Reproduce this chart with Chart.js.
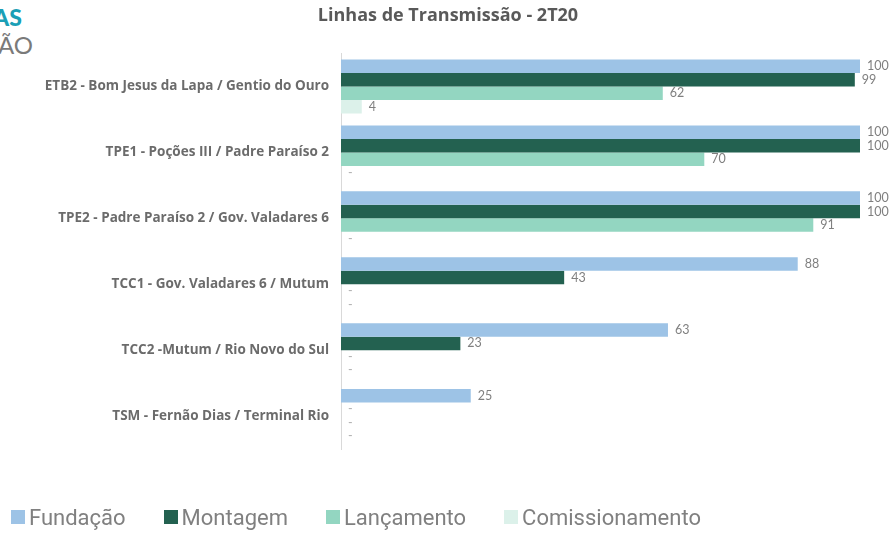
<!DOCTYPE html>
<html>
<head>
<meta charset="utf-8">
<script src="https://cdn.jsdelivr.net/npm/chart.js@4"></script>
<style>
  html, body { margin: 0; padding: 0; background: #fff; }
  #wrap { position: relative; width: 896px; height: 533px; overflow: hidden; }
  canvas { position: absolute; left: 0; top: 0; }
  .frag { position: absolute; font-family: 'Lato', sans-serif; white-space: nowrap; }
  #frag1 { left: -7px; top: 3px; font-size: 23px; font-weight: 900; color: #1b9fb6; }
  #frag2 { left: -2px; top: 30px; font-size: 24px; font-weight: 400; color: #7a7a7a; }
  #legend { position: absolute; left: 11px; top: 505px; height: 24px; display: flex; align-items: center;
            font-family: 'Roboto', sans-serif; font-size: 22px; color: #808080; }
  #legend .item { display: flex; align-items: center; margin-right: 38px; }
  #legend .box { width: 14px; height: 14px; margin-right: 4px; }
</style>
</head>
<body>
<div id="wrap">
  <div class="frag" id="frag1">AS</div>
  <div class="frag" id="frag2">ÃO</div>
  <canvas id="chart" width="896" height="533"></canvas>
  <div id="legend"></div>
</div>
<script>
const categories = [
    'ETB2 - Bom Jesus da Lapa / Gentio do Ouro',
    'TPE1 - Poções III / Padre Paraíso 2',
    'TPE2 - Padre Paraíso 2 / Gov. Valadares 6',
    'TCC1 - Gov. Valadares 6 / Mutum',
    'TCC2 -Mutum / Rio Novo do Sul',
    'TSM - Fernão Dias / Terminal Rio'
];
const fundacao = [100, 100, 100, 88, 63, 25];
const montagem = [99, 100, 100, 43, 23, 0];
const lancamento = [62, 70, 91, 0, 0, 0];
const comissionamento = [4, 0, 0, 0, 0, 0];

const seriesNames = ['Fundação', 'Montagem', 'Lançamento', 'Comissionamento'];
const seriesColors = ['#9dc3e6', '#236150', '#93d6c1', '#dcf1ea'];

// value labels at the end of each bar, "-" for empty ones
const barLabels = {
    id: 'barLabels',
    afterDatasetsDraw(chart) {
        const ctx = chart.ctx;
        ctx.save();
        ctx.font = "12.5px 'Lato', sans-serif";
        ctx.textBaseline = 'middle';
        ctx.textAlign = 'left';
        chart.data.datasets.forEach((ds, i) => {
            const meta = chart.getDatasetMeta(i);
            meta.data.forEach((bar, j) => {
                const v = ds.data[j];
                ctx.fillStyle = v ? '#7f7f7f' : '#b0b0b0';
                ctx.fillText(v ? String(v) : '-', bar.x + 7, bar.y);
            });
        });
        ctx.restore();
    }
};

const ctx = document.getElementById('chart').getContext('2d');
const chart = new Chart(ctx, {
    type: 'bar',
    data: {
        labels: categories,
        datasets: [fundacao, montagem, lancamento, comissionamento].map((d, i) => ({
            label: seriesNames[i],
            data: d,
            backgroundColor: seriesColors[i],
            borderWidth: 0,
            categoryPercentage: 0.82,
            barPercentage: 1
        }))
    },
    options: {
        indexAxis: 'y',
        responsive: false,
        animation: false,
        // equal side padding keeps the title centred on the page
        layout: { padding: { top: 0, right: 36, bottom: 84, left: 36 } },
        plugins: {
            title: {
                display: true,
                text: 'Linhas de Transmissão - 2T20',
                color: '#595959',
                font: { family: "'Open Sans', sans-serif", size: 18, weight: 'bold' },
                padding: { top: 5, bottom: 27 }
            },
            legend: { display: false },
            tooltip: { enabled: false }
        },
        scales: {
            x: {
                display: false,
                min: 0,
                max: 100
            },
            y: {
                grid: { display: false, drawTicks: false },
                border: { display: true, color: '#d9d9d9', width: 1 },
                ticks: {
                    color: '#6b6b6b',
                    padding: 12,
                    font: { family: "'Open Sans', sans-serif", size: 13.5, weight: 'bold' }
                },
                afterFit(scale) { scale.width = 305; }
            }
        }
    },
    plugins: [barLabels]
});

// legend built from the chart's datasets
const legendEl = document.getElementById('legend');
chart.data.datasets.forEach(ds => {
    const item = document.createElement('div');
    item.className = 'item';
    const box = document.createElement('span');
    box.className = 'box';
    box.style.background = ds.backgroundColor;
    const txt = document.createElement('span');
    txt.textContent = ds.label;
    item.appendChild(box);
    item.appendChild(txt);
    legendEl.appendChild(item);
});
</script>
</body>
</html>
